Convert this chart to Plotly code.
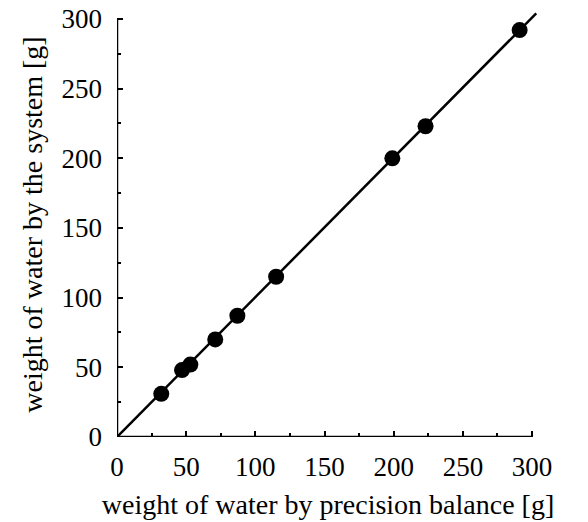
import plotly.graph_objects as go

# Data
balance_g = [32, 47, 53, 71, 87, 115, 199, 223, 291]
system_g = [31, 48, 52, 70, 87, 115, 200, 223, 292]
fit_x = [0, 303]
fit_y = [0, 304]
tick_vals = [0, 50, 100, 150, 200, 250, 300]
tick_text = ["0", "50", "100", "150", "200", "250", "300"]

FONT = "Liberation Serif"

fig = go.Figure()
fig.add_trace(go.Scatter(x=fit_x, y=fit_y, mode="lines",
                         line=dict(color="black", width=2.5),
                         showlegend=False, hoverinfo="skip"))
fig.add_trace(go.Scatter(x=balance_g, y=system_g, mode="markers",
                         marker=dict(color="black", size=16),
                         showlegend=False))

axis_common = dict(
    range=[0, 305], automargin=False, ticklabeloverflow="allow",
    tickmode="array", tickvals=tick_vals, ticktext=tick_text,
    ticks="inside", ticklen=6, tickwidth=2, tickcolor="black",
    minor=dict(ticks="inside", ticklen=4, tickwidth=2, tickcolor="black", dtick=25, tick0=0),
    showgrid=False, zeroline=False, showline=False,
    tickfont=dict(family=FONT, size=27, color="black"),
)

fig.update_xaxes(**axis_common,
                 title=dict(text="weight of water by precision balance [g]",
                            font=dict(family=FONT, size=28, color="black"), standoff=13),
                 ticklabelstandoff=11)
fig.update_yaxes(**axis_common,
                 title=dict(text="weight of water by the system [g]",
                            font=dict(family=FONT, size=28, color="black"), standoff=10),
                 ticklabelstandoff=14)

# axis lines ending at 300
fig.add_shape(type="line", xref="x", yref="y", x0=0, x1=300, y0=0, y1=0,
              line=dict(color="black", width=2.5), layer="above")
fig.add_shape(type="line", xref="x", yref="y", x0=0, x1=0, y0=0, y1=300,
              line=dict(color="black", width=2.5), layer="above")

fig.update_layout(
    width=588, height=522,
    margin=dict(l=117, r=49, t=12, b=85),
    plot_bgcolor="white", paper_bgcolor="white",
    font=dict(family=FONT, color="black"),
)

fig.write_html("out.html",
               config={"displayModeBar": False},
               post_script="document.body.style.margin='0';document.body.style.overflow='hidden';")
